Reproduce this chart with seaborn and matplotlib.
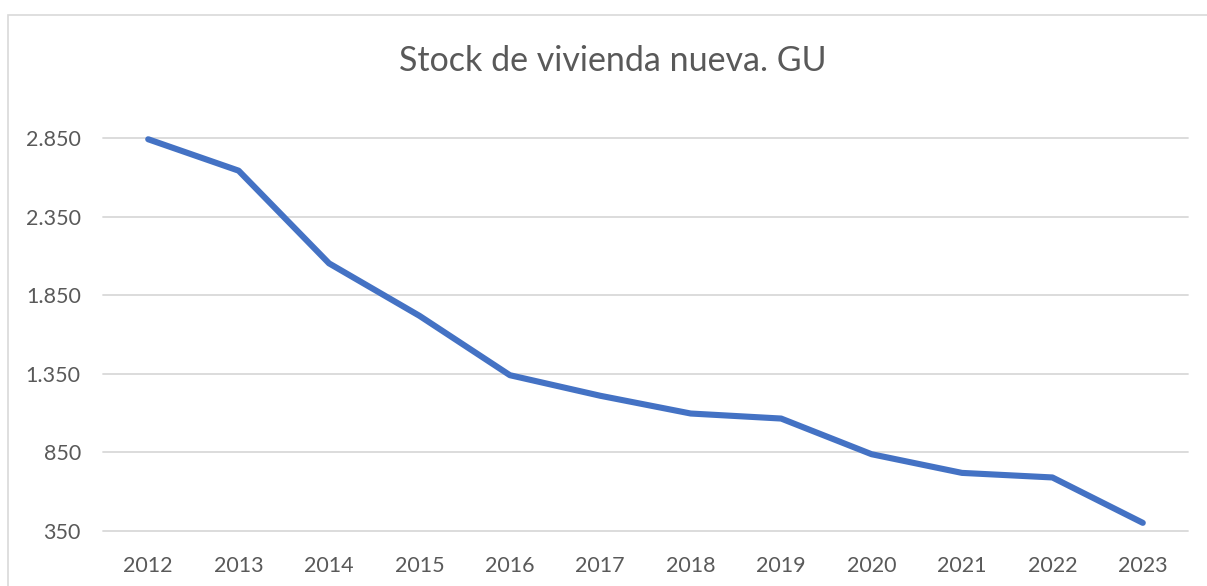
import matplotlib
matplotlib.use("Agg")
import matplotlib.pyplot as plt
from matplotlib.patches import Rectangle
from matplotlib.ticker import FuncFormatter
import seaborn as sns
import pandas as pd

# Stock of new housing, by year
years = ["2012", "2013", "2014", "2015", "2016", "2017",
         "2018", "2019", "2020", "2021", "2022", "2023"]
stock = [2842, 2642, 2052, 1718, 1340, 1209, 1096, 1064, 837, 718, 689, 400]
y_ticks = [350, 850, 1350, 1850, 2350, 2850]
title = "Stock de vivienda nueva. GU"

sns.set_theme(style="white")
plt.rcParams["font.family"] = ["Lato", "DejaVu Sans"]

TEXT = "#595959"
GRID = "#d9d9d9"
LINE = "#4472C4"

W, H = 1207, 586
fig = plt.figure(figsize=(W / 100, H / 100), dpi=100)
fig.patch.set_facecolor("white")

# Chart frame (extends beyond the right and bottom edges)
fig.patches.append(Rectangle((7.5 / W, -0.1), 1.2, 1.1 - 15 / H,
                             transform=fig.transFigure, fill=False,
                             edgecolor=GRID, linewidth=1.2, zorder=0))

left, right = 103 / W, 1188 / W
bottom, top = 1 - 530.7 / H, 1 - 138 / H
ax = fig.add_axes([left, bottom, right - left, top - bottom])

df = pd.DataFrame({"year": years, "stock": stock})
sns.lineplot(data=df, x="year", y="stock", ax=ax, color=LINE,
             linewidth=4.4, sort=False, solid_capstyle="round",
             solid_joinstyle="round", clip_on=False, zorder=3)

ax.set_xlim(-0.5, len(years) - 0.5)
ax.set_ylim(y_ticks[0], y_ticks[-1])
ax.set_yticks(y_ticks)
ax.yaxis.set_major_formatter(
    FuncFormatter(lambda v, _: f"{int(v):,}".replace(",", ".")))

for yv in y_ticks:
    ax.axhline(yv, color=GRID, linewidth=1.3, zorder=1, clip_on=False)

for s in ax.spines.values():
    s.set_visible(False)
ax.grid(False)
ax.set_xlabel("")
ax.set_ylabel("")
ax.tick_params(axis="x", length=0, pad=18.5, labelsize=15.5, labelcolor=TEXT)
ax.tick_params(axis="y", length=0, pad=16, labelsize=15.5, labelcolor=TEXT)

fig.text(613 / W, 1 - 71 / H, title, ha="center", va="baseline",
         fontsize=24.5, color=TEXT)

fig.savefig("out.png", dpi=100, facecolor="white")
